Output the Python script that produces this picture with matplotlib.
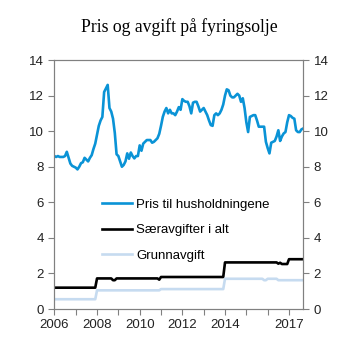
import matplotlib
matplotlib.use("Agg")
import matplotlib.pyplot as plt
import numpy as np

plt.rcParams['font.family'] = ['Liberation Sans', 'DejaVu Sans']

# monthly values, Jan 2006 - Sep 2017 (kr/liter)
pris = [
    8.6, 8.55, 8.6, 8.55, 8.55, 8.55, 8.6, 8.84, 8.5, 8.18, 8.05, 8.0,
    7.95, 7.85, 8.0, 8.2, 8.25, 8.5, 8.4, 8.3, 8.5, 8.65, 9.0, 9.3,
    9.8, 10.3, 10.6, 10.8, 12.2, 12.4, 12.6, 11.3, 11.1, 10.7, 9.9, 8.7,
    8.6, 8.3, 8.0, 8.1, 8.3, 8.75, 8.45, 8.8, 8.6, 8.47, 8.6, 8.6,
    9.2, 8.9, 9.3, 9.4, 9.5, 9.5, 9.5, 9.35, 9.4, 9.5, 9.6, 9.85,
    10.3, 10.8, 11.1, 11.3, 11.0, 11.2, 11.0, 11.0, 10.9, 11.1, 11.35, 11.2,
    11.8, 11.7, 11.65, 11.65, 11.4, 11.0, 11.6, 11.65, 11.65, 11.4, 11.1, 11.2,
    11.3, 11.1, 10.9, 10.6, 10.34, 10.3, 10.9, 11.0, 10.9, 11.0, 11.2, 11.5,
    12.0, 12.35, 12.3, 12.0, 11.9, 11.9, 12.0, 12.1, 12.0, 11.65, 11.85, 11.3,
    10.5, 9.95, 10.8, 10.85, 10.9, 10.9, 10.6, 10.25, 10.25, 10.25, 10.25, 9.4,
    9.05, 8.75, 9.35, 9.4, 9.45, 9.7, 10.05, 9.45, 9.7, 9.87, 9.95, 10.5,
    10.9, 10.85, 10.75, 10.7, 10.05, 9.95, 9.95, 10.1, 10.15,
]

# tax levels as (value, number of months)
saeravgift_runs = [(1.2, 24), (1.72, 9), (1.62, 2), (1.72, 24), (1.65, 1),
                   (1.8, 36), (2.62, 30), (2.55, 1), (2.6, 1), (2.53, 4),
                   (2.8, 9)]
grunnavgift_runs = [(0.55, 24), (1.05, 36), (1.12, 36), (1.7, 22),
                    (1.62, 2), (1.7, 6), (1.62, 15)]

year_ticks = list(range(2006, 2018))
year_labels = ['2006', '', '2008', '', '2010', '', '2012', '', '2014', '', '', '2017']


def expand(runs):
    return np.concatenate([np.full(n, v) for v, n in runs])


saeravgift = expand(saeravgift_runs)
grunnavgift = expand(grunnavgift_runs)
t = 2006 + np.arange(len(pris)) / 12

fig = plt.figure(figsize=(3.53, 3.53), dpi=100)
ax = fig.add_axes([0.154, 0.1246, 0.705, 0.7054])

ax.plot(t, pris, color='#0A93D6', lw=1.9, label='Pris til husholdningene')
ax.plot(t, saeravgift, color='black', lw=1.9, label='Særavgifter i alt')
ax.plot(t, grunnavgift, color='#C6DBF0', lw=1.9, label='Grunnavgift')

ax.set_xlim(2006, t[-1])
ax.set_ylim(0, 14)
ax.set_yticks(range(0, 15, 2))
ax.set_xticks(year_ticks)
ax.set_xticklabels(year_labels)

gray = '#808080'
for s in ax.spines.values():
    s.set_color(gray)
ax.tick_params(colors=gray, labelcolor='#222222', labelsize=9.5,
               length=4, direction='out')

ax2 = ax.twinx()
ax2.set_ylim(0, 14)
ax2.set_yticks(range(0, 15, 2))
for s in ax2.spines.values():
    s.set_color(gray)
ax2.tick_params(colors=gray, labelcolor='#222222', labelsize=9.5,
                length=4, direction='out')

ax.legend(loc='upper left', bbox_to_anchor=(0.17, 0.465), frameon=False,
          fontsize=9.5, handlelength=2.3, handletextpad=0.3,
          labelspacing=1.0, borderaxespad=0)

fig.suptitle('Pris og avgift på fyringsolje', x=0.507, y=0.948,
             fontsize=12.7, family='Liberation Serif')

fig.savefig('out.png', dpi=100)
